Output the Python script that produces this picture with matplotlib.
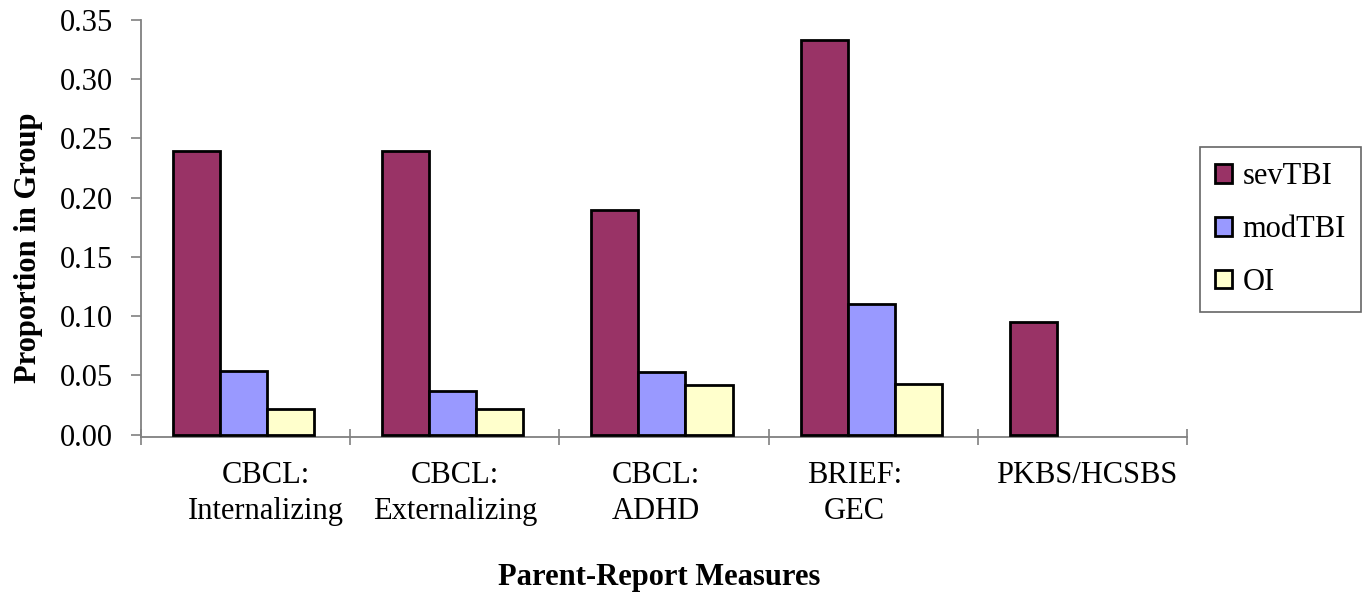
import matplotlib
matplotlib.use("Agg")
import matplotlib.pyplot as plt
import matplotlib.transforms as mtransforms
import numpy as np

categories = ["CBCL:\nInternalizing", "CBCL:\nExternalizing", "CBCL:\nADHD",
              "BRIEF:\nGEC", "PKBS/HCSBS"]
series_names = ["sevTBI", "modTBI", "OI"]
sev_tbi = [0.239, 0.239, 0.190, 0.333, 0.095]
mod_tbi = [0.054, 0.037, 0.053, 0.110, 0.0]
oi = [0.022, 0.022, 0.042, 0.043, 0.0]
yticks = [0.00, 0.05, 0.10, 0.15, 0.20, 0.25, 0.30, 0.35]

colors = ["#993366", "#9999FF", "#FFFFCC"]
axis_gray = "#808080"
FS = 22
# horizontal nudges (pixels) for the wrapped category captions
label_shift_px = [20, 0, -8, -19, 4]

plt.rcParams["font.family"] = ["Liberation Serif", "DejaVu Serif"]

fig = plt.figure(figsize=(13.68, 5.92), dpi=100)
ax = fig.add_axes([141 / 1368, 1 - 437 / 592, (1187 - 141) / 1368, (437 - 20) / 592])

x = np.arange(len(categories))
width = 0.225
for i, (vals, name, col) in enumerate(zip([sev_tbi, mod_tbi, oi], series_names, colors)):
    v = np.array(vals)
    mask = v > 0
    ax.bar(x[mask] + (i - 1) * width - 0.01, v[mask], width=width, color=col,
           edgecolor="black", linewidth=2.0, label=name, zorder=3)

ax.set_xlim(-0.5, len(categories) - 0.5)
ax.set_ylim(-0.002, 0.35)

for side in ["top", "right"]:
    ax.spines[side].set_visible(False)
for side in ["left", "bottom"]:
    ax.spines[side].set_color(axis_gray)
    ax.spines[side].set_linewidth(1.3)

ax.set_yticks(yticks)
ax.set_yticklabels([f"{t:.2f}" for t in yticks], fontsize=FS)
ax.tick_params(axis="y", direction="out", length=7, width=1.2, color=axis_gray, pad=13)

# category boundaries as major ticks, names on minor ticks at centres
ax.set_xticks(np.arange(len(categories) + 1) - 0.5)
ax.set_xticklabels([])
ax.tick_params(axis="x", which="major", direction="inout", length=11, width=1.2, color=axis_gray)
ax.set_xticks(x, minor=True)
ax.set_xticklabels(categories, minor=True, fontsize=FS, linespacing=1.33)
ax.tick_params(axis="x", which="minor", length=0, pad=17)
for lbl, dx in zip(ax.get_xticklabels(minor=True), label_shift_px):
    lbl.set_transform(lbl.get_transform() +
                      mtransforms.ScaledTranslation(dx / 100, 0, fig.dpi_scale_trans))

ax.set_ylabel("Proportion in Group", fontsize=FS, fontweight="bold")
ax.yaxis.set_label_coords(-0.094, 0.455)
ax.set_xlabel("Parent-Report Measures", fontsize=FS, fontweight="bold", va="center")
ax.xaxis.set_label_coords(0.495, -(578 - 437) / 417)

leg = ax.legend(loc="upper left", bbox_to_anchor=(1200 / 1368, 1 - 147 / 592),
                bbox_transform=fig.transFigure,
                fontsize=FS, frameon=True, fancybox=False, edgecolor="#404040",
                handlelength=0.55, handleheight=0.55, handletextpad=0.35,
                labelspacing=0.78, borderpad=0.5, borderaxespad=0)
leg.get_frame().set_linewidth(1.2)

fig.savefig("out.png", dpi=100, facecolor="white")
